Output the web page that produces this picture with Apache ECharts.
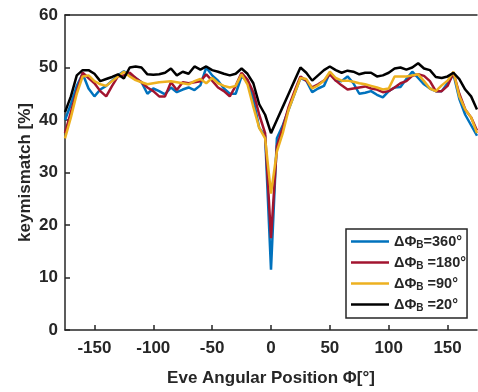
<!DOCTYPE html>
<html>
<head>
<meta charset="utf-8">
<script src="https://cdn.jsdelivr.net/npm/echarts@6/dist/echarts.min.js"></script>
<style>
  html, body { margin: 0; padding: 0; background: #fff; }
  #chart { width: 478px; height: 392px; }
</style>
</head>
<body>
<div id="chart"></div>
<script>
const angles = [-175, -170, -165, -160, -155, -150, -145, -140, -135, -130, -125, -120, -115, -110, -105, -100,
  -95, -90, -85, -80, -75, -70, -65, -60, -55, -50, -45, -40, -35, -30, -25, -20, -15, -10, -5, 0,
  5, 10, 15, 20, 25, 30, 35, 40, 45, 50, 55, 60, 65, 70, 75, 80, 85, 90, 95, 100,
  105, 110, 115, 120, 125, 130, 135, 140, 145, 150, 155, 160, 165, 170, 175];

const km360 = [40, 43, 46.5, 48.8, 46, 44.5, 45.8, 46.5, 47.5, 48.5, 49.3, 48.5, 48, 47.2, 45, 46, 45.5, 44.9, 46.2, 45.3,
  45.8, 46.2, 45.7, 46.6, 50, 48.5, 47.5, 46, 45, 45, 48.3, 47.5, 44, 38.5, 37,
  11.5,
  36.5, 39, 42, 45, 48, 47.5, 45.3, 46, 46.5, 49, 47.5, 47.4, 48.3, 47, 45, 45.2, 45.5, 44.8, 44.3, 45.5,
  46.2, 46.3, 47.8, 49.2, 48, 46.8, 46, 45.5, 45.5, 47, 48.7, 44, 41, 39, 37];

const km180 = [37.5, 41.5, 45.5, 49, 48, 47, 45.5, 44.5, 46.5, 48.3, 48.5, 49, 48, 47.2, 46.2, 45.5, 44.5, 44.5, 47.2, 45.7,
  47.2, 47, 47.2, 47.4, 48.7, 47.5, 46.2, 45.5, 44.5, 46.5, 49, 47.7, 45.3, 41, 37.5,
  17.5,
  35, 38.5, 42.5, 45.5, 48.3, 47.5, 46.2, 46.8, 47.5, 48.7, 47.5, 46.6, 45.8, 46, 46.2, 46.4, 46, 45.8, 45.3, 45.5,
  46.2, 47, 47.4, 48.4, 48.7, 48.4, 47.4, 45.5, 45.5, 46.5, 49, 45, 42, 40.5, 38];

const km90 = [36.5, 40.5, 45, 48.3, 48.5, 47.4, 46.8, 46.5, 47.4, 48.3, 49.2, 48.3, 47.6, 47.2, 46.8, 47, 47.2, 47.3, 47.4, 47.2,
  47, 46.8, 47.4, 47.8, 47, 48, 47, 46.5, 46.2, 46.5, 48.7, 46.8, 42.5, 38.5, 36.5,
  26,
  34, 37.5, 42, 45, 48, 47.8, 46, 46.6, 47.5, 49.2, 48, 47.5, 47.5, 47.3, 47, 46.8, 46.5, 46.2, 45.8, 46,
  48.3, 48.3, 48.3, 48.5, 48.7, 47.4, 46, 45.5, 46.6, 47.5, 49.2, 44.5, 42, 40.5, 37.5];

const km20 = [41.5, 44.5, 48.5, 49.5, 49.5, 48.8, 47.4, 47.8, 48.2, 48.7, 47.9, 50, 50.2, 50, 48.7, 48.6, 48.7, 49, 49.8, 48.5,
  49.2, 48.8, 50.2, 49.6, 50.2, 49.5, 49.2, 48.8, 48.5, 48.8, 49.8, 48.8, 47, 43, 41,
  37.5,
  40, 42.5, 45, 47.5, 50, 49, 47.5, 48.5, 49.5, 50.2, 49.5, 49, 49.4, 49.2, 48.7, 49, 49, 48.3, 48.5, 49,
  49.8, 50, 49.6, 50, 50.8, 49.8, 49.5, 48.2, 48, 48.3, 49, 47.8, 45.8, 44.5, 42];

const xTicks = [-150, -100, -50, 0, 50, 100, 150];
const seriesNames = ['360', '180', '90', '20'];
const legendText = { '360': '=360°', '180': ' =180°', '90': ' =90°', '20': ' =20°' };

const axisColor = '#262626';
const font = 'Liberation Sans, Arial, sans-serif';

const chart = echarts.init(document.getElementById('chart'));

const mkSeries = (name, values, color) => ({
  name: name,
  type: 'line',
  data: angles.map((a, i) => [a, values[i]]),
  symbol: 'none',
  smooth: false,
  lineStyle: { width: 2.5, color: color },
  itemStyle: { color: color },
});

chart.setOption({
  animation: false,
  grid: { left: 65, right: 1, top: 15, bottom: 59 },
  legend: {
    orient: 'vertical',
    left: 346,
    top: 229,
    padding: [5, 1, 5, 5],
    icon: 'rect',
    itemWidth: 38,
    itemHeight: 2.5,
    itemGap: 5,
    borderColor: axisColor,
    borderWidth: 1.5,
    borderRadius: 0,
    backgroundColor: '#fff',
    data: seriesNames,
    formatter: (n) => '{a|ΔΦ}{b|B}{a|' + legendText[n] + '}',
    textStyle: {
      rich: {
        a: { fontFamily: font, fontWeight: 'bold', fontSize: 14.5, color: axisColor },
        b: { fontFamily: font, fontWeight: 'bold', fontSize: 10, color: axisColor, padding: [7, 0, 0, 0] },
      },
    },
  },
  xAxis: [
    {
      type: 'value',
      min: -175,
      max: 175,
      name: 'Eve Angular Position Φ[°]',
      nameLocation: 'middle',
      nameGap: 40,
      nameTextStyle: { fontFamily: font, fontWeight: 'bold', fontSize: 17, color: axisColor },
      axisLine: { show: true, onZero: false, lineStyle: { color: axisColor, width: 1.5 } },
      axisTick: { show: true, inside: true, length: 5, customValues: xTicks, lineStyle: { color: axisColor, width: 1.5 } },
      axisLabel: { customValues: xTicks, margin: 10, fontFamily: font, fontWeight: 'bold', fontSize: 17, color: axisColor },
      splitLine: { show: false },
    },
    {
      type: 'value',
      position: 'top',
      min: -175,
      max: 175,
      axisLine: { show: true, onZero: false, lineStyle: { color: axisColor, width: 1.5 } },
      axisTick: { show: false },
      axisLabel: { show: false },
      splitLine: { show: false },
    },
  ],
  yAxis: {
    type: 'value',
    min: 0,
    max: 60,
    interval: 10,
    name: 'keymismatch [%]',
    nameLocation: 'middle',
    nameGap: 31,
    nameMoveOverlap: false,
    nameTextStyle: { fontFamily: font, fontWeight: 'bold', fontSize: 17, color: axisColor },
    axisLine: { show: true, onZero: false, lineStyle: { color: axisColor, width: 1.5 } },
    axisTick: { show: true, inside: true, length: 5, lineStyle: { color: axisColor, width: 1.5 } },
    axisLabel: { margin: 7, fontFamily: font, fontWeight: 'bold', fontSize: 17, color: axisColor },
    splitLine: { show: false },
  },
  series: [
    mkSeries('360', km360, '#0072BD'),
    mkSeries('180', km180, '#A2142F'),
    mkSeries('90', km90, '#EDB120'),
    mkSeries('20', km20, '#000000'),
  ],
});
</script>
</body>
</html>
